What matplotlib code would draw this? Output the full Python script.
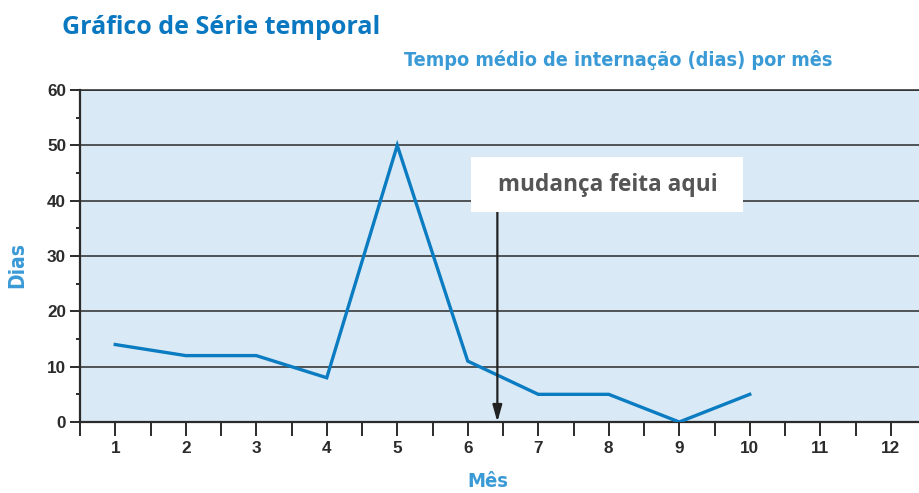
import matplotlib
matplotlib.use("Agg")
import matplotlib.pyplot as plt
from matplotlib import font_manager as fm
from matplotlib.patches import Rectangle

months = [1, 2, 3, 4, 5, 6, 7, 8, 9, 10]
days = [14, 12, 12, 8, 50, 11, 5, 5, 0, 5]
x_ticks = list(range(1, 13))
y_ticks = [0, 10, 20, 30, 40, 50, 60]
title = "Gráfico de Série temporal"
subtitle = "Tempo médio de internação (dias) por mês"
annot_text = "mudança feita aqui"
annot_x = 6.42

names = {f.name for f in fm.fontManager.ttflist}
narrow = "Liberation Sans Narrow" if "Liberation Sans Narrow" in names else "DejaVu Sans"
tickfont = "Liberation Sans"

fig = plt.figure(figsize=(9.2, 4.93), dpi=100)
ax = fig.add_axes([80/920, 71/493, 840/920, 332/493])
ax.set_facecolor("#d9e9f5")
ax.plot(months, days, color="#0b7cc1", lw=2.4, solid_joinstyle="miter", zorder=3)

ax.set_xlim(0.5, 0.5 + 840/70.5)
ax.set_ylim(0, 60)
ax.set_xticks(x_ticks)
ax.set_xticks([t + 0.5 for t in range(0, 12)], minor=True)
ax.set_yticks(y_ticks)
ax.set_yticks([5, 15, 25, 35, 45, 55], minor=True)
ax.grid(axis="y", color="#2b2b2b", lw=1.1, zorder=1)
ax.spines["right"].set_visible(False)
ax.spines["top"].set_color("#2b2b2b")
ax.spines["top"].set_linewidth(1.1)
for s in ["left", "bottom"]:
    ax.spines[s].set_color("#2b2b2b")
    ax.spines[s].set_linewidth(1.6)
ax.tick_params(axis="x", which="both", length=10, width=1.4, color="#2b2b2b", direction="out", pad=4)
ax.tick_params(axis="y", which="major", length=7, width=1.4, color="#2b2b2b", pad=3)
ax.tick_params(axis="y", which="minor", length=3, width=1.4, color="#2b2b2b")
for lab in ax.get_xticklabels() + ax.get_yticklabels():
    lab.set_fontfamily(tickfont)
    lab.set_fontweight("bold")
    lab.set_fontsize(12.3)
    lab.set_color("#2b2b2b")

ax.set_xlabel("Mês", fontfamily=narrow, fontstretch="condensed", fontweight="bold", fontsize=14.5,
              color="#3a9ad6")
ax.xaxis.set_label_coords((488 - 80) / 840, -(472 - 422) / 332)
ax.set_ylabel("Dias", fontfamily=narrow, fontstretch="condensed", fontweight="bold", fontsize=15,
              color="#3a9ad6")
ax.yaxis.set_label_coords((27 - 80) / 840, (422 - 264.5) / 332)

fig.text(62/920, 1 - 27/493, title, fontfamily="Open Sans", fontweight="bold", fontsize=18,
         color="#0a78c0", ha="left", va="center")
fig.text(833/920, 1 - 60/493, subtitle, fontfamily=narrow, fontstretch="condensed", fontweight="bold",
         fontsize=14.2, color="#3a9ad6", ha="right", va="center")

# annotation box and arrow
box_left = annot_x - 0.37
box_right = annot_x + 3.49
ax.add_patch(Rectangle((box_left, 37.95), box_right - box_left, 9.95, fc="white", ec="none", zorder=5))
ax.annotate("", xy=(annot_x, 0), xytext=(annot_x, 37.95),
            arrowprops=dict(arrowstyle="-|>,head_length=1.0,head_width=0.28", color="#222222", lw=1.6,
                            shrinkA=0, shrinkB=0),
            zorder=4)
ax.text((box_left + box_right) / 2, 42.9, annot_text, fontfamily="Open Sans", fontweight="bold",
        fontsize=16.3, color="#555555", ha="center", va="center", zorder=6)

fig.savefig("out.png", dpi=100)
